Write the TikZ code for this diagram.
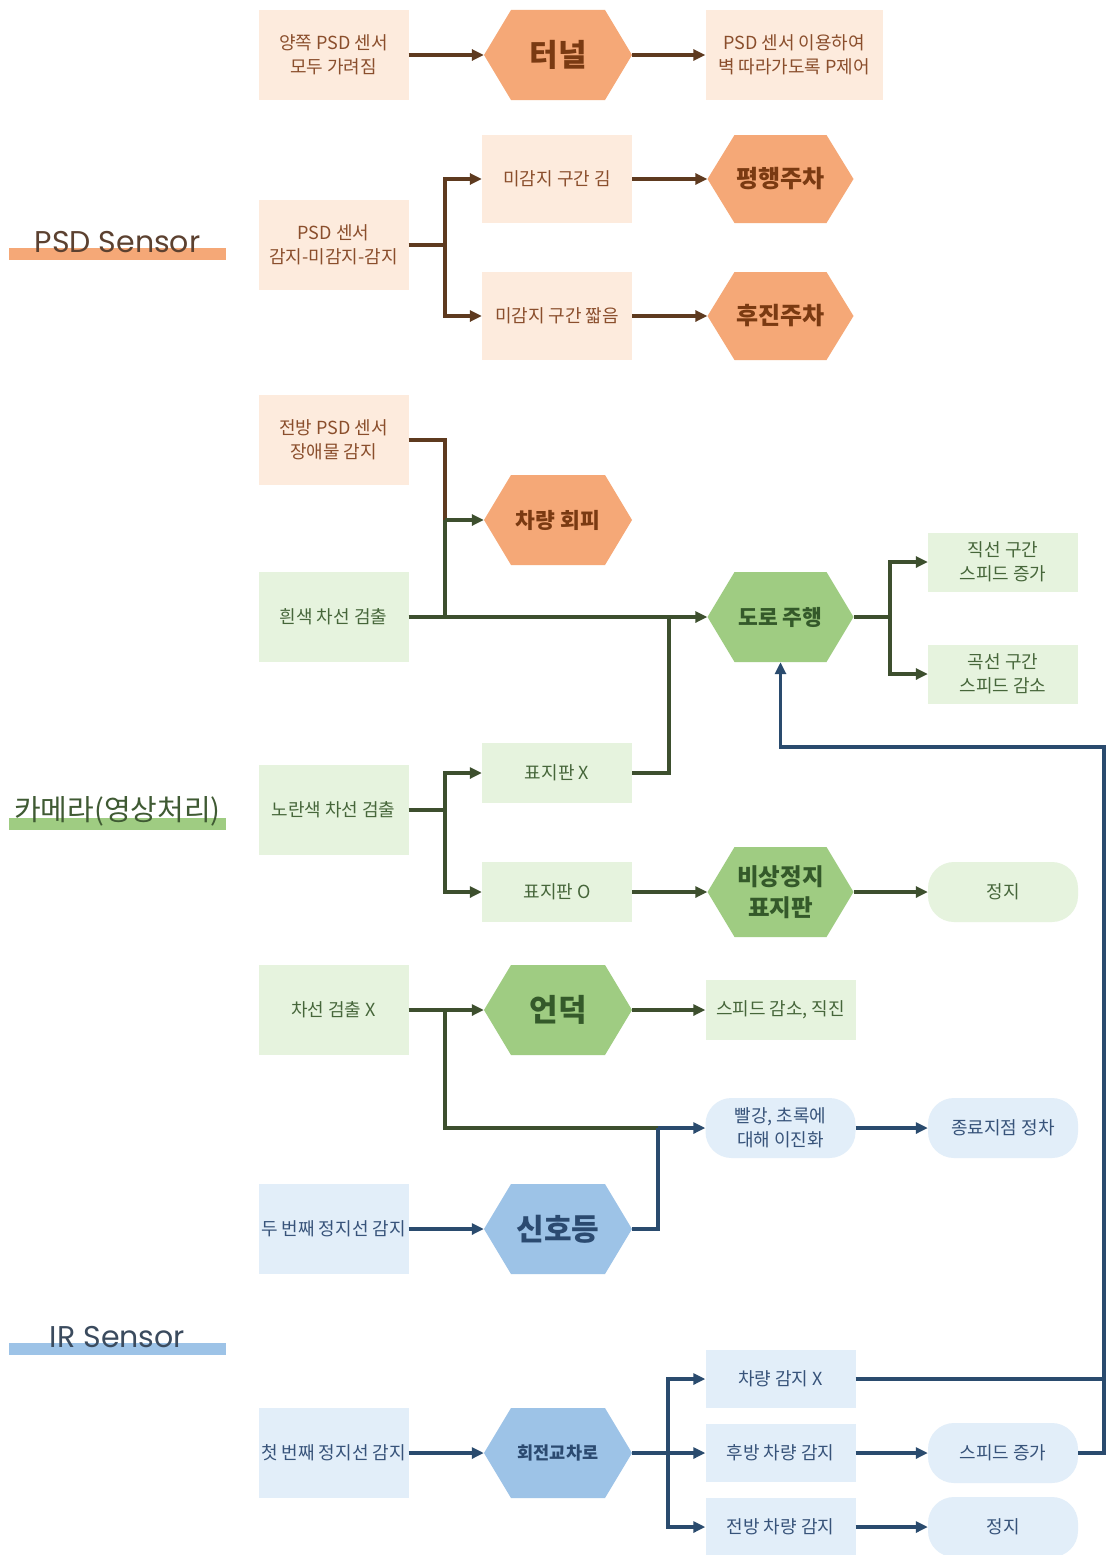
\documentclass[tikz,border=0pt]{standalone}
\usepackage{fontspec}
\setmainfont{Noto Sans CJK KR}
\newfontfamily\titlefont{Poppins}
\usetikzlibrary{arrows.meta,calc}
\definecolor{pfill}{HTML}{FDEBDD}
\definecolor{phexc}{HTML}{F5A877}
\definecolor{ptext}{HTML}{8A4E2C}
\definecolor{phtext}{HTML}{7A3A12}
\definecolor{pline}{HTML}{5E3A1F}
\definecolor{gfill}{HTML}{E6F3DE}
\definecolor{ghexc}{HTML}{9FCC82}
\definecolor{gtext}{HTML}{46663A}
\definecolor{ghtext}{HTML}{34592A}
\definecolor{gline}{HTML}{3D4F2E}
\definecolor{bfill}{HTML}{E2EEF9}
\definecolor{bhexc}{HTML}{9DC3E7}
\definecolor{btext}{HTML}{37537A}
\definecolor{bhtext}{HTML}{2B4A70}
\definecolor{bline}{HTML}{2A4B6E}
\definecolor{ttlbrown}{HTML}{5C4130}
\definecolor{ttlgreen}{HTML}{3F5A33}
\definecolor{ttlblue}{HTML}{3B4B5E}
\newcommand\bxf{\fontsize{18pt}{24pt}\selectfont}
\newcommand\hxf[1]{\fontsize{#1}{1.3\dimexpr#1\relax}\selectfont\bfseries}
\tikzset{
  base/.style={rectangle,inner sep=0pt,minimum width=150pt,minimum height=90pt,align=center,font=\bxf},
  pbox/.style={base,fill=pfill,text=ptext},
  gbox/.style={base,fill=gfill,text=gtext},
  bbox/.style={base,fill=bfill,text=btext},
  grnd/.style={gbox,rounded corners=26pt,minimum height=60pt},
  brnd/.style={bbox,rounded corners=26pt,minimum height=60pt},
  hexo/.style={rectangle,inner sep=0pt,minimum width=148pt,minimum height=90pt,align=center,
    path picture={\fill[#1] (path picture bounding box.west)
      -- ([xshift=27pt]path picture bounding box.north west)
      -- ([xshift=-27pt]path picture bounding box.north east)
      -- (path picture bounding box.east)
      -- ([xshift=-27pt]path picture bounding box.south east)
      -- ([xshift=27pt]path picture bounding box.south west) -- cycle;}},
  phex/.style={hexo=phexc,text=phtext},
  ghex/.style={hexo=ghexc,text=ghtext},
  bhex/.style={hexo=bhexc,text=bhtext},
  conn/.style={line width=3.2pt},
  tip/.style={-{Triangle[length=12pt,width=11pt]}},
  pl/.style={conn,draw=pline},
  pa/.style={pl,tip,pline},
  gl/.style={conn,draw=gline},
  ga/.style={gl,tip,gline},
  bl/.style={conn,draw=bline},
  ba/.style={bl,tip,bline},
}
\begin{document}
\begin{tikzpicture}[x=1pt,y=-1pt]
\useasboundingbox (0,0) rectangle (1107,1555);
\fill[white] (0,0) rectangle (1107,1555);

% section titles
\fill[phexc] (9,248) rectangle (226,260);
\node[anchor=base,font=\titlefont\fontsize{30pt}{34pt}\selectfont,text=ttlbrown] (tpsd) at (117.5,252) {PSD Sensor};
\fill[ghexc] (9,818) rectangle (226,830);
\node[anchor=base,font=\fontsize{29pt}{34pt}\selectfont,text=ttlgreen] (tcam) at (117.5,820) {카메라(영상처리)};
\fill[bhexc] (9,1343) rectangle (226,1355);
\node[anchor=base,font=\titlefont\fontsize{30pt}{34pt}\selectfont,text=ttlblue] (tir) at (117.5,1347) {IR Sensor};

% PSD section
\node[pbox] (a1) at (333.5,55) {양쪽 PSD 센서\\모두 가려짐};
\node[phex,font=\hxf{31pt}] (tunnel) at (558,55) {터널};
\node[pbox,minimum width=177pt] (wall) at (794,55) {PSD 센서 이용하여\\벽 따라가도록 P제어};
\node[pbox] (a2) at (333.5,245) {PSD 센서\\감지-미감지-감지};
\node[pbox,minimum height=88pt] (long) at (557,179) {미감지 구간 김};
\node[pbox,minimum height=88pt] (short) at (557,316) {미감지 구간 짧음};
\node[phex,minimum width=146pt,minimum height=88pt,font=\hxf{24pt}] (para) at (780.5,179) {평행주차};
\node[phex,minimum width=146pt,minimum height=88pt,font=\hxf{24pt}] (rev) at (780.5,316) {후진주차};
\node[pbox] (a3) at (333.5,440) {전방 PSD 센서\\장애물 감지};
\node[phex,font=\hxf{21.5pt}] (avoid) at (558,520) {차량 회피};

% camera section
\node[gbox] (white) at (333.5,617) {흰색 차선 검출};
\node[ghex,minimum width=146pt,font=\hxf{21.5pt}] (road) at (780.5,617) {도로 주행};
\node[gbox,minimum height=59pt] (straight) at (1003,562) {직선 구간\\스피드 증가};
\node[gbox,minimum height=59pt] (curve) at (1003,674) {곡선 구간\\스피드 감소};
\node[gbox] (yellow) at (333.5,810) {노란색 차선 검출};
\node[gbox,minimum height=60pt] (signX) at (557,773) {표지판 X};
\node[gbox,minimum height=60pt] (signO) at (557,892) {표지판 O};
\node[ghex,minimum width=146pt,font=\hxf{23.5pt}] (estop) at (780.5,892) {비상정지\\표지판};
\node[grnd] (stopA) at (1003,892) {정지};
\node[gbox] (nolane) at (333.5,1010) {차선 검출 X};
\node[ghex,font=\hxf{31pt}] (hill) at (558,1010) {언덕};
\node[gbox,minimum height=60pt] (slow) at (780.5,1010) {스피드 감소, 직진};

% IR section
\node[brnd] (bin) at (780.5,1128) {빨강, 초록에\\대해 이진화};
\node[brnd] (endst) at (1003,1128) {종료지점 정차};
\node[bbox] (second) at (333.5,1229) {두 번째 정지선 감지};
\node[bhex,font=\hxf{30pt}] (light) at (558,1229) {신호등};
\node[bbox] (first) at (333.5,1453) {첫 번째 정지선 감지};
\node[bhex,font=\hxf{17.5pt}] (round) at (558,1453) {회전교차로};
\node[bbox,minimum height=58pt] (nocar) at (780.5,1379) {차량 감지 X};
\node[bbox,minimum height=58pt] (rear) at (780.5,1453) {후방 차량 감지};
\node[bbox,minimum height=58pt] (front) at (780.5,1527) {전방 차량 감지};
\node[brnd] (fast) at (1003,1453) {스피드 증가};
\node[brnd] (stopB) at (1003,1527) {정지};

% junction coordinates
\coordinate (j2) at (445,245);
\coordinate (j3) at (445,520);
\coordinate (j4) at (445,617);
\coordinate (j5) at (669,617);
\coordinate (j6) at (890,617);
\coordinate (j7) at (445,810);
\coordinate (j8) at (445,1010);
\coordinate (j9) at (658,1128);
\coordinate (j10) at (668,1453);
\coordinate (j12) at (1104,747);
\coordinate (j13) at (1104,1379);

% PSD connectors
\draw[pa] (a1) -- (tunnel);
\draw[pa] (tunnel) -- (wall);
\draw[pl] (a2.east) -- (j2);
\draw[pa] (j2) |- (long.west);
\draw[pa] (j2) |- (short.west);
\draw[pa] (long) -- (para);
\draw[pa] (short) -- (rev);
\draw[pl] (a3.east) -| (j3);

% camera connectors
\draw[gl] (j4) -- (j3);
\draw[ga] (j3) -- (avoid.west);
\draw[ga] (white) -- (road);
\draw[gl] (signX.east) -| (j5);
\draw[gl] (road.east) -- (j6);
\draw[ga] (j6) |- (straight.west);
\draw[ga] (j6) |- (curve.west);
\draw[gl] (yellow.east) -- (j7);
\draw[ga] (j7) |- (signX.west);
\draw[ga] (j7) |- (signO.west);
\draw[ga] (signO) -- (estop);
\draw[ga] (estop) -- (stopA);
\draw[ga] (nolane) -- (hill);
\draw[ga] (hill) -- (slow);
\draw[gl] (j8) |- (j9);

% IR connectors
\draw[bl] (light.east) -| (j9);
\draw[ba] (j9) -- (bin.west);
\draw[ba] (bin) -- (endst);
\draw[ba] (second) -- (light);
\draw[ba] (first) -- (round);
\draw[bl] (round.east) -- (j10);
\draw[ba] (j10) |- (nocar.west);
\draw[ba] (j10) -- (rear.west);
\draw[ba] (j10) |- (front.west);
\draw[ba] (rear) -- (fast);
\draw[ba] (front) -- (stopB);
\draw[bl] (fast.east) -| (j13);
\draw[ba] (nocar.east) -| (j12) -| (road.south);
\end{tikzpicture}
\end{document}
